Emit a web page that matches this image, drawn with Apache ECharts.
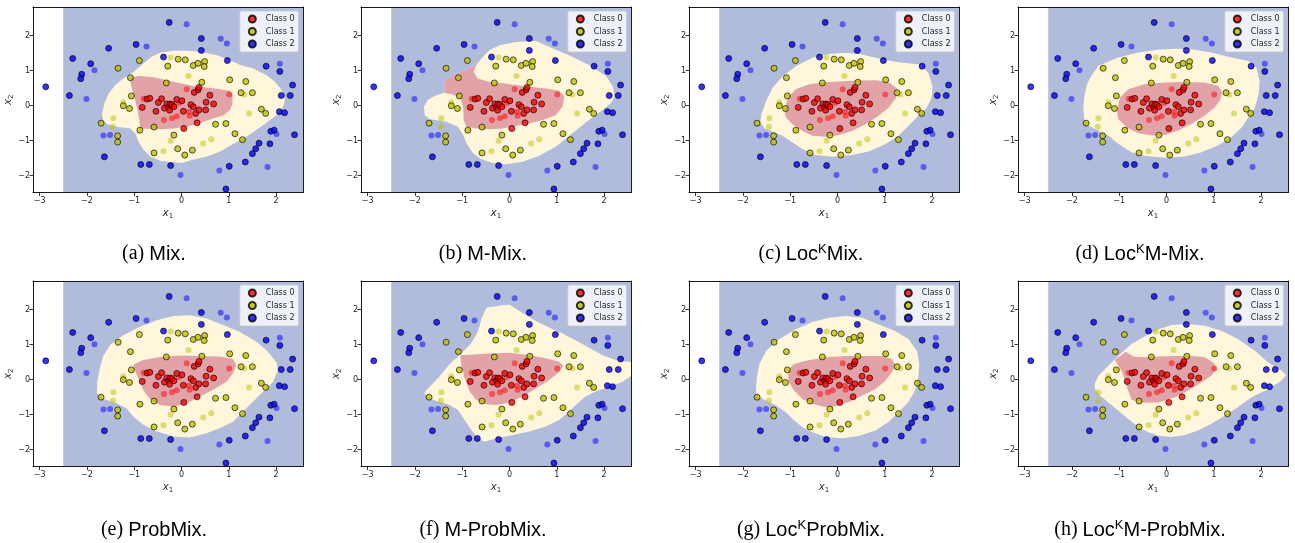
<!DOCTYPE html>
<html>
<head>
<meta charset="utf-8">
<script src="https://cdn.jsdelivr.net/npm/echarts@6/dist/echarts.min.js"></script>
<style>
  html, body { margin: 0; background: #fff; }
  #chart { width: 1295px; height: 543px; }
</style>
</head>
<body>
<div id="chart"></div>
<script>
// training points (black edge)
const class0Train = [[-0.83,-0.05],[-0.73,0.19],[-0.67,0.21],[-0.54,-0.16],[-0.49,0.09],[-0.42,0.20],[-0.36,-0.07],[-0.31,0.05],[-0.27,-0.03],[-0.24,0.05],[-0.25,-0.13],[-0.20,0.03],[-0.16,-0.03],[-0.10,0.18],[0.01,0.14],[0.04,-0.16],[0.05,-0.65],[0.20,0.03],[0.25,-0.03],[0.30,-0.22],[0.37,-0.12],[0.33,-0.49],[0.51,-0.12],[0.52,0.10],[0.68,0.05],[0.60,0.30],[0.27,0.38],[0.35,0.45],[0.37,0.52]];
const class1Train = [[-0.89,1.29],[-1.34,1.07],[-1.08,0.80],[-1.06,0.28],[-1.23,0.00],[-1.10,-0.08],[-1.70,-0.50],[-1.35,-0.86],[-1.35,-1.04],[-0.88,-0.70],[-0.58,-0.61],[-0.58,-1.35],[-0.16,-0.84],[-0.08,-1.23],[0.07,-1.41],[0.23,-1.27],[-0.29,1.13],[-0.07,1.33],[0.08,1.31],[0.25,1.15],[0.35,1.21],[0.49,1.26],[0.48,1.12],[0.43,0.67],[-0.32,0.65],[1.02,0.74],[1.36,0.69],[1.26,0.37],[1.50,0.37],[1.69,-0.10],[1.78,-0.22],[0.94,-0.51],[0.72,-0.53],[1.13,-0.80],[1.29,-0.97]];
const class2Train = [[-0.26,2.38],[0.42,1.92],[0.42,1.58],[-0.96,1.75],[-1.54,1.64],[-2.30,1.35],[-1.92,1.20],[-2.11,0.90],[-2.13,0.77],[-2.87,0.54],[-2.37,0.29],[-0.38,1.39],[0.97,1.29],[1.79,1.13],[2.08,0.98],[2.35,0.59],[2.11,0.29],[2.30,0.29],[2.07,-0.17],[2.18,-0.20],[2.39,-0.83],[1.89,-0.73],[1.96,-0.70],[1.87,-1.09],[1.64,-1.07],[1.57,-1.23],[1.50,-1.37],[1.35,-1.61],[1.01,-1.73],[0.94,-2.38],[-0.23,-1.71],[-0.68,-1.68],[-0.86,-1.68],[-1.63,-1.46]];

// test points (faded, no edge)
const class0Test = [[0.11,0.47],[1.01,0.32],[-0.37,-0.41],[-0.20,-0.36],[-0.10,-0.30],[0.16,-0.17],[0.17,-0.29],[-0.80,0.20],[-0.05,0.08]];
const class1Test = [[-0.23,1.38],[0.15,0.85],[-1.23,0.10],[-1.44,-0.36],[-1.45,-0.60],[-0.23,-1.00],[-0.38,-1.30],[0.46,-1.08],[0.63,-0.96],[1.43,-0.22],[1.33,0.32]];
const class2Test = [[0.11,2.33],[0.83,1.91],[0.96,1.78],[-0.74,1.69],[-1.84,1.01],[-2.01,0.19],[2.08,1.20],[-1.65,-0.85],[-1.51,-0.84],[2.01,-0.81],[1.82,-1.75],[0.80,-1.85],[-0.02,-1.98]];

// decision regions (boundary vertices)
const meshBounds = [[-2.5,-3],[3,-3],[3,3],[-2.5,3]];

const yellowMix = [[-1.68,-0.22],[-1.63,0.07],[-1.54,0.35],[-1.40,0.59],[-1.23,0.78],[-1.01,0.97],[-0.80,1.21],[-0.63,1.40],[-0.45,1.51],[-0.17,1.57],[0.11,1.57],[0.39,1.54],[0.75,1.44],[1.03,1.30],[1.24,1.16],[1.52,1.06],[1.80,0.87],[1.98,0.68],[2.12,0.45],[2.19,0.16],[2.15,-0.03],[2.01,-0.27],[1.73,-0.55],[1.38,-0.88],[1.10,-1.09],[0.82,-1.31],[0.54,-1.45],[0.22,-1.55],[0.01,-1.64],[-0.24,-1.61],[-0.45,-1.57],[-0.66,-1.45],[-0.80,-1.26],[-0.91,-1.03],[-0.98,-0.79],[-1.08,-0.65],[-1.37,-0.60],[-1.58,-0.52],[-1.66,-0.41]];
const redMix = [[-1.10,0.81],[-0.87,0.85],[-0.59,0.81],[-0.31,0.73],[-0.03,0.64],[0.25,0.56],[0.54,0.52],[0.82,0.47],[1.03,0.43],[1.08,0.30],[1.08,0.07],[1.03,-0.12],[0.89,-0.27],[0.68,-0.36],[0.39,-0.50],[0.11,-0.60],[-0.17,-0.65],[-0.45,-0.67],[-0.73,-0.66],[-0.87,-0.65],[-0.89,-0.41],[-0.93,-0.12],[-0.98,0.16],[-1.05,0.49]];

const yellowMMix = [[-1.81,-0.03],[-1.72,0.18],[-1.55,0.30],[-1.37,0.37],[-1.38,0.68],[-1.27,0.81],[-0.98,0.99],[-0.70,1.16],[-0.56,1.40],[-0.42,1.59],[-0.21,1.73],[0.14,1.82],[0.56,1.85],[0.98,1.60],[1.26,1.44],[1.68,1.16],[2.04,0.85],[2.19,0.54],[2.22,0.26],[2.14,0.07],[1.97,-0.12],[1.68,-0.41],[1.33,-0.79],[0.98,-1.17],[0.63,-1.43],[0.28,-1.60],[-0.07,-1.67],[-0.35,-1.64],[-0.60,-1.53],[-0.77,-1.36],[-0.91,-1.07],[-0.98,-0.84],[-1.09,-0.60],[-1.34,-0.46],[-1.69,-0.38],[-1.79,-0.27]];
const redMMix = [[-1.37,0.37],[-1.38,0.68],[-1.27,0.81],[-0.98,0.99],[-0.70,1.16],[-0.76,0.97],[-0.67,0.78],[-0.42,0.68],[-0.14,0.64],[0.14,0.59],[0.42,0.54],[0.77,0.49],[1.05,0.43],[1.16,0.26],[1.12,-0.03],[0.98,-0.27],[0.70,-0.41],[0.42,-0.50],[0.14,-0.58],[-0.14,-0.65],[-0.42,-0.67],[-0.70,-0.65],[-0.91,-0.60],[-0.97,-0.41],[-0.98,-0.03],[-1.04,0.21],[-1.20,0.32]];

const yellowLocMix = [[-1.63,-0.48],[-1.61,-0.25],[-1.51,0.13],[-1.37,0.51],[-1.16,0.84],[-0.88,1.13],[-0.53,1.37],[-0.18,1.48],[0.17,1.51],[0.52,1.46],[0.87,1.35],[1.29,1.24],[1.75,1.18],[1.92,0.94],[2.01,0.56],[1.99,0.23],[1.89,-0.06],[1.71,-0.29],[1.50,-0.58],[1.29,-0.86],[1.01,-1.10],[0.66,-1.31],[0.31,-1.41],[-0.11,-1.46],[-0.46,-1.41],[-0.74,-1.24],[-0.95,-1.05],[-1.16,-0.86],[-1.37,-0.74],[-1.54,-0.65]];
const redLocMix = [[-1.12,-0.15],[-1.05,0.23],[-0.88,0.47],[-0.60,0.61],[-0.25,0.67],[0.10,0.70],[0.45,0.72],[0.80,0.73],[1.08,0.68],[1.26,0.49],[1.24,0.23],[1.08,-0.06],[0.87,-0.29],[0.59,-0.53],[0.31,-0.72],[0.03,-0.84],[-0.25,-0.89],[-0.53,-0.86],[-0.74,-0.72],[-0.95,-0.53],[-1.09,-0.34]];

const yellowLocMMix = [[-1.74,-0.38],[-1.76,-0.05],[-1.73,0.33],[-1.68,0.62],[-1.59,0.85],[-1.44,1.14],[-1.02,1.38],[-0.59,1.52],[-0.17,1.60],[0.18,1.63],[0.53,1.61],[0.95,1.52],[1.37,1.38],[1.73,1.28],[1.90,1.09],[1.97,0.71],[1.95,0.33],[1.87,-0.05],[1.73,-0.33],[1.59,-0.62],[1.37,-0.90],[1.09,-1.14],[0.74,-1.33],[0.39,-1.45],[-0.03,-1.49],[-0.45,-1.44],[-0.74,-1.33],[-1.02,-1.09],[-1.23,-0.85],[-1.44,-0.71],[-1.65,-0.57]];
const redLocMMix = [[-1.05,-0.14],[-0.98,0.24],[-0.81,0.47],[-0.45,0.62],[-0.03,0.66],[0.39,0.68],[0.81,0.66],[1.09,0.57],[1.18,0.38],[1.13,0.14],[1.02,-0.05],[0.81,-0.28],[0.53,-0.52],[0.25,-0.71],[-0.03,-0.84],[-0.31,-0.85],[-0.59,-0.79],[-0.84,-0.62],[-1.02,-0.38]];

const yellowProb = [[-1.79,-0.39],[-1.78,-0.06],[-1.73,0.32],[-1.66,0.66],[-1.51,0.99],[-1.23,1.27],[-0.88,1.51],[-0.52,1.70],[-0.17,1.82],[0.18,1.84],[0.53,1.75],[0.88,1.56],[1.23,1.37],[1.59,1.08],[1.83,0.80],[2.01,0.49],[2.04,0.28],[1.94,-0.06],[1.73,-0.34],[1.51,-0.63],[1.30,-0.91],[1.09,-1.20],[0.81,-1.39],[0.53,-1.53],[0.18,-1.65],[-0.17,-1.62],[-0.52,-1.48],[-0.81,-1.29],[-1.02,-1.05],[-1.16,-0.82],[-1.37,-0.67],[-1.65,-0.55]];
const redProb = [[-1.02,0.43],[-0.81,0.56],[-0.45,0.65],[-0.03,0.69],[0.39,0.68],[0.81,0.66],[1.09,0.59],[1.16,0.42],[1.09,0.18],[0.95,-0.06],[0.67,-0.29],[0.39,-0.48],[0.11,-0.67],[-0.17,-0.77],[-0.45,-0.72],[-0.67,-0.55],[-0.81,-0.29],[-0.93,0.09],[-1.00,0.32]];

const yellowMProb = [[-1.81,-0.39],[-1.69,-0.20],[-1.48,0.09],[-1.27,0.44],[-1.02,0.75],[-0.81,1.04],[-0.67,1.37],[-0.58,1.79],[-0.48,2.06],[-0.21,2.11],[0.00,2.15],[0.14,2.03],[0.35,1.84],[0.60,1.65],[0.88,1.46],[1.12,1.32],[1.40,1.13],[1.68,0.91],[1.97,0.70],[2.25,0.56],[2.60,0.49],[2.60,0.13],[2.39,-0.06],[2.18,-0.17],[1.82,-0.34],[1.61,-0.48],[1.44,-0.67],[1.26,-0.91],[1.05,-1.15],[0.77,-1.34],[0.42,-1.48],[0.07,-1.58],[-0.28,-1.67],[-0.53,-1.77],[-0.67,-1.67],[-0.81,-1.43],[-0.95,-1.15],[-1.09,-0.86],[-1.30,-0.70],[-1.55,-0.61],[-1.72,-0.51]];
const redMProb = [[-1.04,0.70],[-0.77,0.72],[-0.42,0.75],[0.00,0.77],[0.42,0.70],[0.77,0.61],[1.05,0.51],[1.14,0.40],[1.05,0.21],[0.84,-0.01],[0.56,-0.25],[0.28,-0.48],[0.00,-0.65],[-0.28,-0.72],[-0.49,-0.70],[-0.70,-0.58],[-0.84,-0.34],[-0.95,0.04],[-1.02,0.42]];

const yellowLocProb = [[-1.72,-0.41],[-1.72,-0.17],[-1.70,0.11],[-1.65,0.45],[-1.51,0.82],[-1.23,1.16],[-0.88,1.44],[-0.53,1.65],[-0.18,1.77],[0.17,1.82],[0.52,1.77],[0.87,1.58],[1.22,1.39],[1.50,1.16],[1.68,0.82],[1.73,0.45],[1.71,0.07],[1.64,-0.31],[1.50,-0.64],[1.29,-0.93],[1.08,-1.21],[0.80,-1.45],[0.45,-1.61],[0.10,-1.67],[-0.25,-1.64],[-0.53,-1.50],[-0.74,-1.36],[-0.95,-1.12],[-1.09,-0.93],[-1.30,-0.74],[-1.58,-0.55]];
const redLocProb = [[-1.04,-0.03],[-1.04,0.28],[-0.92,0.45],[-0.67,0.54],[-0.25,0.64],[0.17,0.68],[0.59,0.68],[0.94,0.68],[1.15,0.59],[1.22,0.42],[1.15,0.21],[1.01,-0.03],[0.80,-0.27],[0.52,-0.45],[0.24,-0.64],[-0.04,-0.76],[-0.25,-0.79],[-0.53,-0.69],[-0.74,-0.55],[-0.92,-0.31]];

const yellowLocMProb = [[-1.52,-0.12],[-1.44,0.11],[-1.23,0.40],[-1.02,0.68],[-0.74,1.02],[-0.45,1.25],[-0.17,1.44],[0.11,1.56],[0.46,1.59],[0.81,1.54],[1.16,1.40],[1.51,1.16],[1.87,0.83],[2.15,0.49],[2.43,0.26],[2.53,0.13],[2.43,-0.03],[2.15,-0.27],[1.80,-0.50],[1.51,-0.79],[1.23,-1.03],[0.95,-1.26],[0.67,-1.45],[0.39,-1.58],[0.11,-1.64],[-0.17,-1.60],[-0.38,-1.50],[-0.59,-1.36],[-0.81,-1.12],[-1.02,-0.88],[-1.23,-0.65],[-1.40,-0.46],[-1.51,-0.27]];
const redLocMProb = [[-1.09,0.57],[-0.86,0.80],[-0.70,0.66],[-0.45,0.64],[-0.17,0.66],[0.18,0.68],[0.53,0.68],[0.81,0.64],[1.01,0.47],[1.06,0.30],[0.95,0.11],[0.74,-0.08],[0.46,-0.31],[0.18,-0.50],[-0.17,-0.65],[-0.52,-0.66],[-0.74,-0.57],[-0.81,-0.31],[-0.88,-0.03],[-0.95,0.26],[-1.03,0.42]];

const xTicks = [-3, -2, -1, 0, 1, 2];
const yTicks = [-2, -1, 0, 1, 2];
const classNames = ['Class 0', 'Class 1', 'Class 2'];

const captions = [
    '{p|(a)} {n|Mix.}',
    '{p|(b)} {n|M-Mix.}',
    '{p|(c)} {n|Loc}{k|K}{n|Mix.}',
    '{p|(d)} {n|Loc}{k|K}{n|M-Mix.}',
    '{p|(e)} {n|ProbMix.}',
    '{p|(f)} {n|M-ProbMix.}',
    '{p|(g)} {n|Loc}{k|K}{n|ProbMix.}',
    '{p|(h)} {n|Loc}{k|K}{n|M-ProbMix.}'
];

const panels = [
    { yellow: yellowMix, red: redMix },
    { yellow: yellowMMix, red: redMMix },
    { yellow: yellowLocMix, red: redLocMix },
    { yellow: yellowLocMMix, red: redLocMMix },
    { yellow: yellowProb, red: redProb },
    { yellow: yellowMProb, red: redMProb },
    { yellow: yellowLocProb, red: redLocProb },
    { yellow: yellowLocMProb, red: redLocMProb }
];

const X_MIN = -3.14, X_MAX = 2.57, Y_MIN = -2.48, Y_MAX = 2.82;
const lefts = [33, 361, 689, 1018];
const tops = [7, 281];
const W = 270, H = 185.5;

const colors = ['#ff0000', '#bfbf00', '#0000ff'];
const regionColors = { blue: '#b1bbdb', yellow: '#fff6db', red: '#e2a3a8' };

const fmt = v => (v < 0 ? '\u2212' + Math.abs(v) : String(v));

const grid = [], xAxis = [], yAxis = [], series = [], legend = [], graphic = [];

const polygonSeries = (i, poly, fill) => ({
    type: 'custom',
    xAxisIndex: 2 * i,
    yAxisIndex: 2 * i,
    clip: true,
    silent: true,
    z: 1,
    data: [0],
    renderItem: (params, api) => ({
        type: 'polygon',
        shape: { points: poly.map(p => api.coord(p)) },
        style: { fill: fill }
    })
});

const nameRich = {
    i: { fontSize: 10, fontStyle: 'italic', fontFamily: 'DejaVu Sans', color: '#262626' },
    s: { fontSize: 7, fontFamily: 'DejaVu Sans', color: '#262626', padding: [5, 0, 0, 0] }
};

panels.forEach((p, i) => {
    const left = lefts[i % 4], top = tops[Math.floor(i / 4)];
    grid.push({ left: left, top: top, width: W, height: H });

    const frame = { show: true, onZero: false, lineStyle: { color: '#000', width: 0.9 } };
    const tickLbl = { fontSize: 8, color: '#262626', fontFamily: 'DejaVu Sans', formatter: fmt };
    xAxis.push({
        gridIndex: i, type: 'value', min: X_MIN, max: X_MAX, position: 'bottom', z: 10,
        axisLine: frame,
        axisTick: { show: true, inside: false, length: 3.5, lineStyle: { color: '#000', width: 0.8 }, customValues: xTicks },
        axisLabel: Object.assign({ margin: 4, customValues: xTicks }, tickLbl),
        splitLine: { show: false },
        name: '{i|x}{s|1}', nameLocation: 'middle', nameGap: 15,
        nameTextStyle: { rich: nameRich }
    });
    xAxis.push({
        gridIndex: i, type: 'value', min: X_MIN, max: X_MAX, position: 'top', z: 10,
        axisLine: frame, axisTick: { show: false }, axisLabel: { show: false }, splitLine: { show: false }
    });
    yAxis.push({
        gridIndex: i, type: 'value', min: Y_MIN, max: Y_MAX, position: 'left', z: 10,
        axisLine: frame,
        axisTick: { show: true, inside: false, length: 3.5, lineStyle: { color: '#000', width: 0.8 }, customValues: yTicks },
        axisLabel: Object.assign({ margin: 3, customValues: yTicks }, tickLbl),
        splitLine: { show: false },
        name: '{i|x}{s|2}', nameLocation: 'middle', nameGap: 17, nameRotate: 90,
        nameTextStyle: { rich: nameRich }
    });
    yAxis.push({
        gridIndex: i, type: 'value', min: Y_MIN, max: Y_MAX, position: 'right', z: 10,
        axisLine: frame, axisTick: { show: false }, axisLabel: { show: false }, splitLine: { show: false }
    });

    series.push(polygonSeries(i, meshBounds, regionColors.blue));
    series.push(polygonSeries(i, p.yellow, regionColors.yellow));
    series.push(polygonSeries(i, p.red, regionColors.red));

    [class0Test, class1Test, class2Test].forEach((pts, c) => {
        series.push({
            type: 'scatter', name: classNames[c] + ' test', xAxisIndex: 2 * i, yAxisIndex: 2 * i,
            symbolSize: 6, z: 3, silent: true,
            itemStyle: { color: colors[c], opacity: 0.5 },
            data: pts
        });
    });
    [class0Train, class1Train, class2Train].forEach((pts, c) => {
        series.push({
            type: 'scatter', name: classNames[c], xAxisIndex: 2 * i, yAxisIndex: 2 * i,
            symbolSize: 6, z: 4, silent: true,
            itemStyle: { color: colors[c], borderColor: '#000', borderWidth: 0.8 },
            data: pts
        });
    });

    legend.push({
        data: classNames, orient: 'vertical', selectedMode: false,
        right: 1295 - (left + W) + 4.5, top: top + 4,
        icon: 'circle', itemWidth: 7, itemHeight: 7, itemGap: 2.5,
        padding: [3, 4, 3, 8],
        backgroundColor: 'rgba(255,255,255,0.8)', borderColor: '#cccccc', borderWidth: 0.8, borderRadius: 2,
        textStyle: { fontSize: 8, lineHeight: 10, color: '#262626', fontFamily: 'DejaVu Sans', padding: [0, 0, 0, 5] }
    });

    graphic.push({
        type: 'text',
        x: [154, 483, 811, 1140][i % 4],
        y: [254, 530][Math.floor(i / 4)],
        style: {
            text: captions[i],
            textAlign: 'center', textVerticalAlign: 'middle',
            font: '20px "Liberation Serif"',
            fill: '#000',
            rich: {
                p: { fontFamily: 'Liberation Serif', fontSize: 20, lineHeight: 23, fill: '#000' },
                n: { fontFamily: 'Liberation Sans', fontSize: 20, lineHeight: 23, fill: '#000' },
                k: { fontFamily: 'Liberation Sans', fontSize: 13, lineHeight: 23, verticalAlign: 'top', padding: [0, 0, 9, 0], fill: '#000' }
            }
        }
    });
});

const chart = echarts.init(document.getElementById('chart'), null, { renderer: 'canvas' });
chart.setOption({
    backgroundColor: '#fff',
    animation: false,
    grid: grid,
    xAxis: xAxis,
    yAxis: yAxis,
    legend: legend,
    graphic: graphic,
    series: series
});
</script>
</body>
</html>
